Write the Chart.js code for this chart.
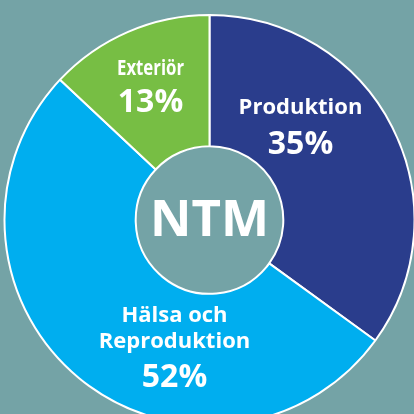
<!DOCTYPE html>
<html>
<head>
<meta charset="utf-8">
<script src="https://cdn.jsdelivr.net/npm/chart.js@4/dist/chart.umd.min.js"></script>
<style>
  html, body { margin: 0; padding: 0; background: #74a3a6; }
  #wrap { width: 414px; height: 414px; }
</style>
</head>
<body>
<div id="wrap"><canvas id="c" width="414" height="414"></canvas></div>
<script>
// ---- data ----
const categories = ['Produktion', 'Hälsa och Reproduktion', 'Exteriör'];
const values = [35, 52, 13];
const labelLines = [['Produktion'], ['Hälsa och', 'Reproduktion'], ['Exteriör']];
const centerText = 'NTM';

// ---- styling ----
const sliceColors = ['#2a3d8c', '#00aeef', '#77be44'];
const bgColor = '#74a3a6';
// label layout: offsets from chart centre (px), font sizes, optional width fit
const labelLayout = [
  { dx: 91, nameY: -112, lineGap: 26, nameSize: 22, pctY: -75, pctSize: 32 },
  { dx: -35, nameY: 96, lineGap: 26, nameSize: 22, pctY: 158, pctSize: 32 },
  { dx: -59, nameY: -151, lineGap: 26, nameSize: 22, pctY: -117, pctSize: 32, fitWidth: 67 }
];

const bgPlugin = {
  id: 'bg',
  beforeDraw(chart) {
    const ctx = chart.ctx;
    ctx.save();
    ctx.fillStyle = bgColor;
    ctx.fillRect(0, 0, chart.width, chart.height);
    ctx.restore();
  }
};

function drawText(ctx, text, x, y, size, fitWidth) {
  ctx.font = 'bold ' + size + 'px "Open Sans"';
  const w = ctx.measureText(text).width;
  ctx.save();
  ctx.translate(x, y);
  if (fitWidth && w > fitWidth) ctx.scale(fitWidth / w, 1);
  ctx.fillText(text, 0, 0);
  ctx.restore();
}

const labelPlugin = {
  id: 'labels',
  afterDraw(chart) {
    const ctx = chart.ctx;
    const arcs = chart.getDatasetMeta(0).data;
    const cx = arcs[0].x, cy = arcs[0].y;
    ctx.save();
    ctx.fillStyle = '#ffffff';
    ctx.textAlign = 'center';
    ctx.textBaseline = 'middle';
    labelLines.forEach((lines, i) => {
      const L = labelLayout[i];
      lines.forEach((ln, j) => {
        drawText(ctx, ln, cx + L.dx, cy + L.nameY + j * L.lineGap, L.nameSize, L.fitWidth);
      });
      drawText(ctx, values[i] + '%', cx + L.dx, cy + L.pctY, L.pctSize);
    });
    drawText(ctx, centerText, cx, cy + 1, 51);
    ctx.restore();
  }
};

new Chart(document.getElementById('c'), {
  type: 'doughnut',
  data: {
    labels: categories,
    datasets: [{
      data: values,
      backgroundColor: sliceColors,
      borderColor: '#ffffff',
      borderWidth: 2,
      hoverOffset: 0
    }]
  },
  options: {
    responsive: false,
    animation: false,
    radius: 205,
    cutout: '36%',
    rotation: 0,
    layout: { padding: { left: 5, right: 0, top: 26, bottom: 0 } },
    plugins: {
      legend: { display: false },
      tooltip: { enabled: false }
    }
  },
  plugins: [bgPlugin, labelPlugin]
});
</script>
</body>
</html>
